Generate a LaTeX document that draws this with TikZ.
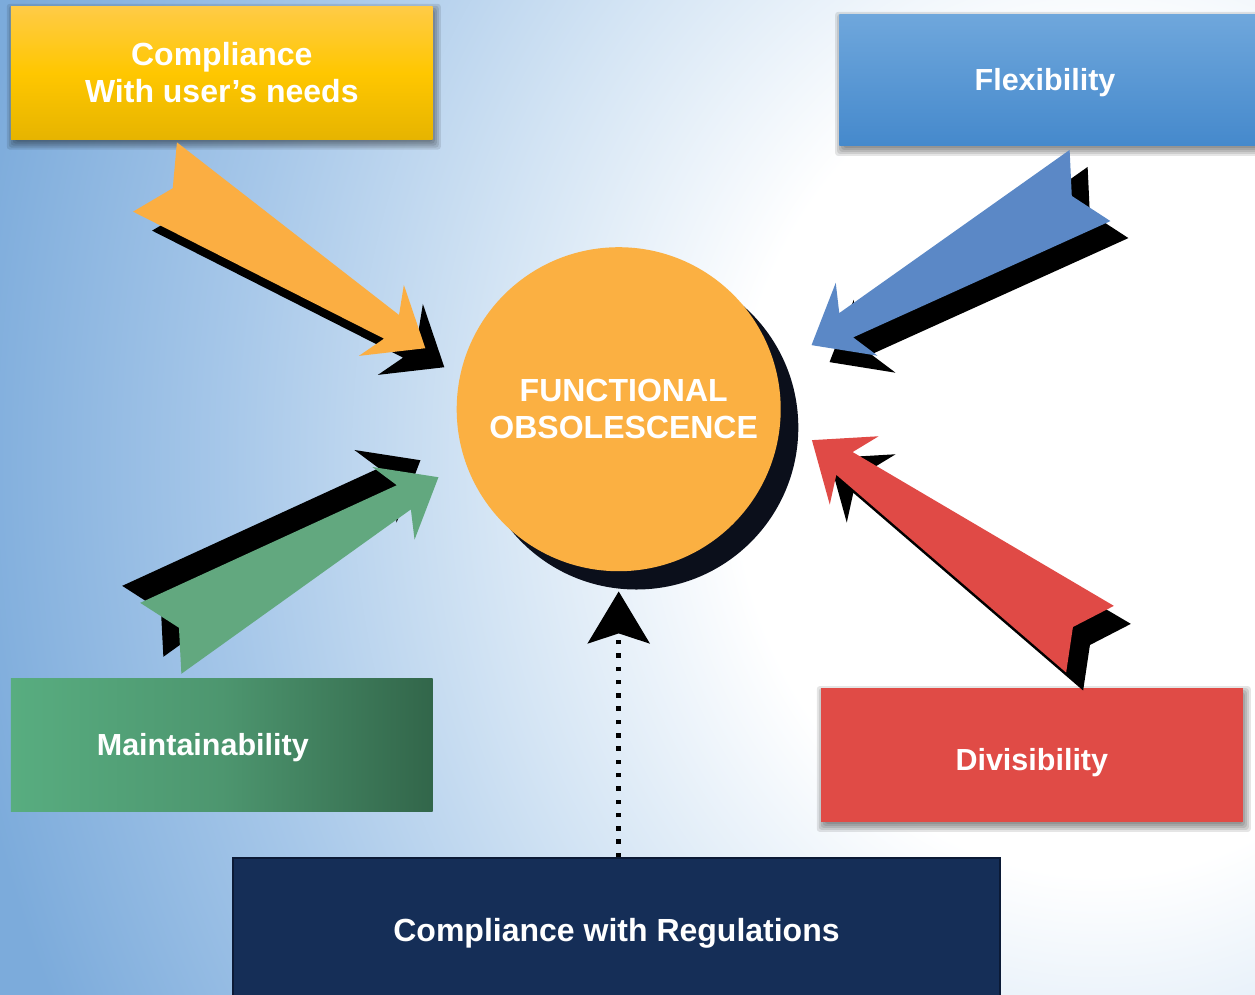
\documentclass[tikz,border=0pt]{standalone}
\usepackage{fontspec}
\setmainfont{Liberation Sans}
\usetikzlibrary{arrows.meta,calc}

% background sky
\definecolor{bgA}{HTML}{D3E4F4}
\definecolor{bgB}{HTML}{A6C7E9}
\definecolor{bgD}{HTML}{7CABDB}
% central disc
\definecolor{sunOrange}{HTML}{FBB042}
\definecolor{deepShadow}{HTML}{0B0F1B}
% boxes
\definecolor{yelTop}{HTML}{FFCB47}
\definecolor{yelMid}{HTML}{FFC700}
\definecolor{yelBot}{HTML}{E6B400}
\definecolor{bluTop}{HTML}{6FA7DC}
\definecolor{bluBot}{HTML}{4589CC}
\definecolor{grnL}{HTML}{58AD80}
\definecolor{grnM}{HTML}{4D966F}
\definecolor{grnR}{HTML}{32664A}
\definecolor{redBox}{HTML}{E04B46}
\definecolor{navyBox}{HTML}{152E57}
\definecolor{navyEdge}{HTML}{0B1A36}
% block arrows
\definecolor{arrOrange}{HTML}{FBAE42}
\definecolor{arrBlue}{HTML}{5B88C6}
\definecolor{arrGreen}{HTML}{62A87F}
\definecolor{arrRed}{HTML}{E04A46}

\pgfdeclareradialshading{skyglow}{\pgfpoint{0bp}{0bp}}{%
  color(0bp)=(white); color(6.1bp)=(white); color(10.35bp)=(bgA);
  color(14.6bp)=(bgB); color(19.2bp)=(bgD); color(50bp)=(bgD)}

\pgfdeclarelayer{sky}
\pgfdeclarelayer{shade}
\pgfsetlayers{sky,shade,main}

% tapered block arrow with swallow tail and a hard black shadow
% #1,#2 tail centre, #3 direction, #4 length, #5 colour, #6,#7 shadow offset
\newcommand\blockarrow[7]{%
  \fill[black, shift={({#1+(#6)},{#2+(#7)})}, rotate=#3]
    (0,-41) -- (21,0) -- (0,41) -- ({#4-40},14) -- ({#4-52},42) -- (#4,0)
    -- ({#4-52},-42) -- ({#4-40},-14) -- cycle;
  \fill[#5, shift={(#1,#2)}, rotate=#3]
    (0,-41) -- (21,0) -- (0,41) -- ({#4-40},14) -- ({#4-52},42) -- (#4,0)
    -- ({#4-52},-42) -- ({#4-40},-14) -- cycle;
}

% soft drop shadow behind a box node
\newcommand\softshadow[1]{%
  \begin{pgfonlayer}{shade}
    \clip (0,0) rectangle (1255,994);
    \foreach \e in {6,4,2,0,-2}{
      \fill[black, opacity=0.1, rounded corners=3pt]
        ($(#1.north west)+(2-\e,4-\e)$) rectangle ($(#1.south east)+(2+\e,4+\e)$);
    }
  \end{pgfonlayer}}

\begin{document}
\begin{tikzpicture}[x=1pt,y=-1pt,
  box/.style={rectangle, inner sep=0pt, minimum width=421.7pt,
    minimum height=133.4pt, text=white, align=center,
    font=\bfseries\fontsize{30.5}{36}\selectfont},
  bigtext/.style={font=\bfseries\fontsize{32}{37.5}\selectfont},
  disc/.style={circle, inner sep=0pt, minimum size=324pt},
  regline/.style={line width=4.5pt, dash pattern=on 4.5pt off 8.8pt,
    -{Stealth[length=52pt,width=62pt,inset=10pt]}}]

\useasboundingbox (0,0) rectangle (1255,994);
\clip (0,0) rectangle (1255,994);

% sky background
\begin{pgfonlayer}{sky}
  \clip (0,0) rectangle (1255,994);
  \fill[bgD] (0,0) rectangle (1255,994);
  \shade[shading=skyglow] (1100,460) ellipse [x radius=1500, y radius=1700];
\end{pgfonlayer}

% factor boxes
\node[box, bigtext, top color=yelTop, bottom color=yelBot,
  middle color=yelMid] (users) at (221.8,72.7) {Compliance\\With user’s needs};
\node[box, minimum width=431pt, minimum height=131.7pt,
  text height=21.6pt, text depth=0pt,
  top color=bluTop, bottom color=bluBot] (flex) at (1054.8,79.9)
  {Flexibility\hspace{19.6pt}};
\node[box, left color=grnL, right color=grnR, middle color=grnM,
  text height=21.4pt, text depth=0pt]
  (maint) at (221.8,745) {Maintainability\hspace{38pt}};
\node[box, fill=redBox, text height=30pt, text depth=0pt]
  (divis) at (1031.8,755) {Divisibility};
\node[box, bigtext, minimum width=767pt, minimum height=144pt, fill=navyBox,
  draw=navyEdge, line width=1.5pt, text height=22.5pt, text depth=0pt]
  (regs) at (616.5,930) {Compliance with Regulations};

\softshadow{users}
\softshadow{flex}
\softshadow{divis}

% block arrows towards the centre
\blockarrow{155}{177}{-32.35}{320}{arrOrange}{19}{19}
\blockarrow{1090}{185.5}{-150.18}{321}{arrBlue}{18}{17}
\blockarrow{160.8}{638.3}{30.12}{321}{arrGreen}{-18}{-17}
\blockarrow{1090}{639.2}{144.4}{342}{arrRed}{17}{18}

% central disc with its shadow
\node[disc, fill=deepShadow] (coreshade) at (636.3,427.5) {};
\node[disc, fill=sunOrange, text=white, bigtext, align=center]
  (core) at (618.7,409.2)
  {\hspace*{10pt}FUNCTIONAL\\\hspace*{10pt}OBSOLESCENCE};

% dotted link from the regulations box
\draw[regline] (regs.north -| core.south) -- ($(core.south)+(0,20)$);

\end{tikzpicture}
\end{document}
